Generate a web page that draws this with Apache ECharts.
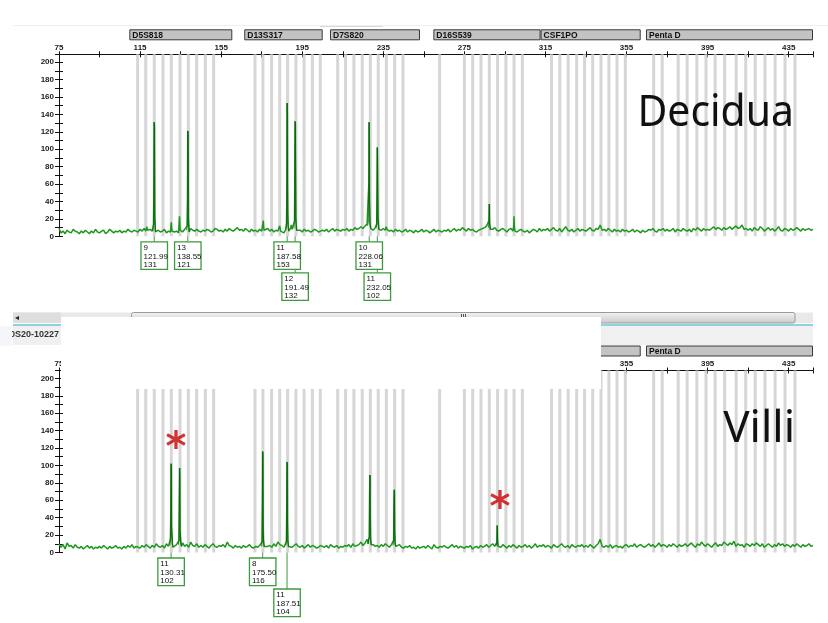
<!DOCTYPE html>
<html><head><meta charset="utf-8">
<script src="https://cdn.jsdelivr.net/npm/echarts@6/dist/echarts.min.js"></script>
<style>html,body{margin:0;padding:0;background:#fff}#c{width:828px;height:623px}</style>
</head><body><div id="c"></div>
<script>
// ---- axis ranges / ticks ----
const X_MIN = 75, X_MAX = 447, X_TICK = 20, X_LABEL_STEP = 40;
const Y_MIN = 0, Y_MAX = 209, Y_TICK = 10, Y_LABEL_STEP = 20;

// ---- loci (marker bins at top) ----
const markerNames = ['D5S818','D13S317','D7S820','D16S539','CSF1PO','Penta D'];
const markerStart = [109.7,166.4,208.7,259.7,312.6,364.6];
const markerEnd   = [160.5,205.1,253.1,312.6,362.0,447];

// ---- allele bins (grey vertical lines), bp ----
const bins = [113.8,117.8,122.0,126.3,130.4,134.7,138.8,142.9,147.2,151.3,
  171.7,175.6,179.9,183.9,187.8,191.9,195.9,200.0,203.9,
  212.5,216.4,220.5,224.6,228.6,232.5,236.5,240.6,244.7,
  262.8,275.0,279.1,283.2,287.3,291.4,295.5,299.5,303.6,
  318.0,322.1,326.2,330.4,334.3,338.3,342.4,346.3,350.3,354.4,
  368.4,372.6,380.5,384.9,389.7,394.2,398.7,403.4,409.1,413.8,418.5,423.3,428.3,433.2,438.1];

// ---- baseline trace, one reading per bp from 75 to 447 (RFU) ----
const deciduaNoise = [
9,4,6,3,7,5,4,8,6,5, 3,6,4,7,5,3,6,4,8,5, 4,6,7,3,5,8,6,4,6,5, 7,4,6,5,8,6,5,7,6,5,
8,6,9,7,5,8,6,6,4,7, 5,6,8,4,6,5,7,5,6,4, 6,5,8,6,5,9,7,6,8,6, 5,7,6,8,7,5,6,9,8,6,
7,5,8,6,9,7,6,8,10,7, 8,6,9,7,5,8,6,7,5,8, 6,7,5,9,6,8,5,7,6,5, 6,4,6,5,8,6,5,9,6,7,
5,8,6,7,5,6,8,7,5,6, 7,6,8,5,7,9,6,8,7,6, 8,7,9,6,8,7,10,8,9,11, 9,12,14,15,9,7,10,12,8,7,
9,11,8,6,7,5,8,6,7,5, 6,8,5,7,6,4,7,5,6,8, 5,7,6,4,6,8,5,7,6,5, 7,6,8,5,7,9,6,8,7,10,
8,6,9,7,8,6,5,7,8,9, 10,12,9,9,8,10,7,6,8,9, 7,5,8,9,6,6,5,7,8,6, 5,7,4,6,8,7,5,9,6,8,
7,9,6,8,10,7,6,9,5,8, 11,7,6,8,5,7,9,6,8,7, 6,8,10,7,6,9,8,13,7,8, 6,9,7,5,8,6,7,5,8,6,
7,5,6,8,5,7,6,4,7,5, 6,8,7,9,6,5,8,7,9,6, 8,6,7,9,5,8,7,6,9,7, 6,8,5,9,7,10,8,6,9,7,
8,7,9,11,8,10,9,7,10,8, 9,11,8,10,12,9,10,13,8,9, 7,9,6,10,8,7,11,9,6,8, 10,7,9,6,8,11,7,6,9,8,
6,9,7,8,10,8,6,9,7,8, 9,7,8];
const villiNoise = [
10,6,9,4,11,7,8,5,9,6, 5,7,4,6,8,5,7,4,6,5, 7,5,8,6,4,7,5,6,8,5, 6,4,7,5,8,6,9,5,7,6,
5,8,6,9,7,5,8,6,10,7, 6,8,5,10,7,9,6,8,9,10, 8,11,7,9,6,12,8,7,10,6, 8,6,9,7,5,8,10,7,6,8,
7,9,6,12,8,7,5,8,6,7, 5,8,6,7,9,6,5,7,6,8, 7,6,9,7,8,6,10,7,12,9, 8,6,7,7,9,6,8,10,7,6,
8,5,7,9,6,8,7,5,6,8, 7,6,8,5,9,7,6,8,5,7, 6,8,7,9,6,10,7,8,9,12, 8,11,15,18,10,9,7,8,6,9,
7,10,8,6,9,9,8,7,9,6, 5,7,6,8,5,6,4,7,5,6, 7,5,8,6,4,9,6,5,7,6, 8,6,5,7,9,6,8,5,7,6,
5,7,6,8,4,6,7,5,8,6, 7,9,6,8,10,7,9,8,6,9, 7,5,8,6,9,7,5,8,6,7, 9,6,8,5,7,10,6,8,7,9,
6,8,7,5,9,7,6,8,10,7, 6,8,5,9,7,6,8,7,9,6, 8,6,9,7,5,8,10,15,7,6, 8,6,9,5,7,8,6,7,5,8,
9,6,8,7,10,6,8,9,7,6, 8,10,7,9,6,8,11,7,9,8, 6,9,7,10,8,6,9,7,8,10, 7,9,11,8,6,10,8,12,9,7,
10,8,6,9,11,7,9,8,12,10, 8,11,9,13,7,10,8,9,6,10, 9,7,10,8,11,9,7,10,6,8, 10,8,6,9,7,11,8,10,7,9,
8,6,9,7,10,8,6,9,7,8, 10,7,8];

// ---- peaks, [bp, RFU] ----
const deciduaPeaks = [
  [[117.8,6],[118.3,11],[118.8,7]],
  [[121.3,6],[121.65,14],[121.82,56],[121.95,131],[122.1,126],[122.25,22],[122.6,5]],
  [[130.0,5],[130.4,16],[130.7,6]],
  [[134.1,6],[134.45,23],[134.8,7]],
  [[137.9,7],[138.25,12],[138.42,45],[138.53,121],[138.68,117],[138.85,20],[139.2,5]],
  [[175.4,6],[175.8,18],[176.1,7]],
  [[183.5,5],[183.9,12],[184.3,6]],
  [[186.9,8],[187.25,15],[187.42,50],[187.55,153],[187.65,140],[187.75,60],[187.85,27],[188.05,12],[188.4,6]],
  [[189.2,9],[189.6,13],[190.0,8]],
  [[190.9,9],[191.2,18],[191.38,85],[191.5,132],[191.6,128],[191.7,85],[191.85,20],[192.2,7]],
  [[227.2,12],[227.65,16],[227.88,62],[228.0,131],[228.1,110],[228.22,40],[228.45,14],[228.8,9]],
  [[231.4,9],[231.75,14],[231.93,57],[232.03,102],[232.12,93],[232.22,60],[232.4,20],[232.8,8]],
  [[236.0,7],[236.4,11],[236.8,8]],
  [[286.9,10],[287.15,18],[287.3,37],[287.45,15],[287.8,8]],
  [[299.1,8],[299.35,12],[299.5,23],[299.65,11],[299.95,6]]
];
const villiPeaks = [
  [[129.7,8],[130.0,16],[130.18,44],[130.31,102],[130.42,98],[130.52,30],[130.72,28],[130.95,10],[131.3,6]],
  [[133.9,9],[134.2,14],[134.38,60],[134.5,97],[134.6,90],[134.72,25],[134.92,23],[135.15,10],[135.5,7]],
  [[174.9,7],[175.2,12],[175.36,55],[175.5,116],[175.6,112],[175.72,30],[175.9,14],[176.2,7]],
  [[186.9,8],[187.2,13],[187.36,52],[187.51,104],[187.62,100],[187.72,35],[187.9,14],[188.2,7]],
  [[227.5,10],[227.8,15],[228.1,18],[228.24,65],[228.38,89],[228.47,85],[228.57,40],[228.72,16],[229.0,9]],
  [[239.8,8],[240.1,14],[240.26,56],[240.4,72],[240.5,68],[240.62,25],[240.85,10],[241.2,7]],
  [[290.8,8],[291.05,12],[291.2,31],[291.35,14],[291.6,7]]
];

// ---- allele calls: [allele, size bp, height RFU] ----
const deciduaCalls = [['9','121.99','131'],['13','138.55','121'],['11','187.58','153'],['12','191.49','132'],['10','228.06','131'],['11','232.05','102']];
const villiCalls = [['11','130.31','102'],['8','175.50','116'],['11','187.51','104']];

// ---- red asterisks [bp, RFU] ----
const villiStars = [[132.7,130],[292.6,61]];

const panelTitles = ['Decidua','Villi'];
const sampleName = '0S20-10227';

// ================= build =================
const GREEN = '#1c981c', DARK = '#0a560a', BOXG = '#3d9a3d';
const LABEL_FONT = 'Liberation Sans';

function buildTrace(noise, peaks) {
  const ranges = peaks.map(pk => [pk[0][0], pk[pk.length - 1][0]]);
  const pts = [];
  noise.forEach((v, i) => {
    const x = X_MIN + i;
    if (!ranges.some(r => x >= r[0] - 0.05 && x <= r[1] + 0.05)) pts.push([x, v]);
  });
  peaks.forEach(pk => pk.forEach(p => pts.push(p)));
  pts.sort((a, b) => a[0] - b[0]);
  return pts;
}

function xAx(grid, inner) {
  return {
    type: 'value', gridIndex: grid, position: 'top', min: X_MIN, max: X_MAX, interval: X_TICK,
    axisLine: { show: !inner, onZero: false, lineStyle: { color: '#111', width: 1 } },
    axisTick: { show: true, inside: inner, length: 3, lineStyle: { color: '#111' } },
    axisLabel: { show: !inner, margin: 3, fontSize: 8, fontWeight: 'bold', color: '#222', fontFamily: LABEL_FONT,
      formatter: v => ((v - X_MIN) % X_LABEL_STEP === 0 ? String(v) : '') },
    splitLine: { show: false }
  };
}
function yAx(grid, inner) {
  return {
    type: 'value', gridIndex: grid, position: 'left', min: Y_MIN, max: Y_MAX, interval: Y_TICK,
    axisLine: { show: !inner, onZero: false, lineStyle: { color: '#111', width: 1 } },
    axisTick: { show: true, inside: inner, length: 4, lineStyle: { color: '#111' } },
    axisLabel: { show: !inner, margin: 5, fontSize: 8, fontWeight: 'bold', color: '#222', fontFamily: LABEL_FONT,
      formatter: v => (v % Y_LABEL_STEP === 0 ? String(v) : '') },
    splitLine: { show: false }
  };
}

function assignRows(calls, pxPerBp) {
  const rows = []; let lastRow0 = null;
  calls.forEach(c => {
    const s = parseFloat(c[1]);
    if (lastRow0 !== null && (s - lastRow0) * pxPerBp < 27) rows.push(1);
    else { rows.push(0); lastRow0 = s; }
  });
  return rows;
}

function panelSeries(ax, noise, peaks, calls) {
  const s = [];
  s.push({
    type: 'custom', xAxisIndex: ax, yAxisIndex: ax, z: 1, silent: true, clip: false,
    data: bins.map(b => [b, 0]),
    renderItem: (params, api) => {
      const p0 = api.coord([api.value(0), Y_MIN]);
      const p1 = api.coord([api.value(0), Y_MAX]);
      return { type: 'rect', shape: { x: p0[0] - 1.5, y: p1[1], width: 3, height: p0[1] - p1[1] }, style: { fill: '#d6d6d6' } };
    }
  });
  s.push({
    type: 'custom', xAxisIndex: ax, yAxisIndex: ax, z: 5, silent: true, clip: false,
    data: markerNames.map((n, i) => [markerStart[i], markerEnd[i]]),
    renderItem: (params, api) => {
      const a = api.coord([api.value(0), Y_MAX]);
      const b = api.coord([api.value(1), Y_MAX]);
      const top = params.coordSys.y - 25;
      return { type: 'group', children: [
        { type: 'rect', shape: { x: a[0] + 0.5, y: top + 0.5, width: b[0] - a[0] - 1, height: 10 },
          style: { fill: '#c3c3c3', stroke: '#3a3a3a', lineWidth: 1 } },
        { type: 'text', style: { x: a[0] + 3, y: top + 6, text: markerNames[params.dataIndex], fill: '#111',
          fontSize: 8.5, fontWeight: 'bold', fontFamily: LABEL_FONT, verticalAlign: 'middle', align: 'left' } }
      ] };
    }
  });
  s.push({
    type: 'line', xAxisIndex: ax, yAxisIndex: ax, z: 3, silent: true, showSymbol: false, symbol: 'none',
    data: buildTrace(noise, peaks), lineStyle: { color: GREEN, width: 1.5 }
  });
  peaks.forEach(pk => {
    if (Math.max(...pk.map(p => p[1])) < 30) return;
    s.push({ type: 'line', xAxisIndex: ax, yAxisIndex: ax, z: 4, silent: true, symbol: 'none',
      data: pk, lineStyle: { color: DARK, width: 0.7 } });
  });
  const rows = assignRows(calls, 754 / (X_MAX - X_MIN));
  const callData = calls.map(c => [parseFloat(c[1]), 0]);
  s.push({
    type: 'custom', xAxisIndex: ax, yAxisIndex: ax, z: 6, silent: true, clip: false, data: callData,
    renderItem: (params, api) => {
      const p = api.coord([api.value(0), 0]);
      const top = p[1] + 5.5 + rows[params.dataIndex] * 31;
      return { type: 'line', shape: { x1: p[0], y1: p[1], x2: p[0], y2: top }, style: { stroke: BOXG, lineWidth: 1 } };
    }
  });
  s.push({
    type: 'custom', xAxisIndex: ax, yAxisIndex: ax, z: 7, silent: true, clip: false, data: callData,
    renderItem: (params, api) => {
      const p = api.coord([api.value(0), 0]);
      const c = calls[params.dataIndex];
      const top = p[1] + 5.5 + rows[params.dataIndex] * 31;
      const w = 26.5, h = 27.6;
      return { type: 'group', children: [
        { type: 'rect', shape: { x: p[0] - w / 2, y: top, width: w, height: h }, style: { fill: '#fff', stroke: BOXG, lineWidth: 1.3 } },
        { type: 'text', style: { x: p[0] - w / 2 + 2.5, y: top + 1.5, text: c.join('\n'), fill: '#111',
          fontSize: 8, fontFamily: LABEL_FONT, lineHeight: 8.7, verticalAlign: 'top', align: 'left' } }
      ] };
    }
  });
  return s;
}

const series = [].concat(
  panelSeries(0, deciduaNoise, deciduaPeaks, deciduaCalls),
  panelSeries(2, villiNoise, villiPeaks, villiCalls),
  [{
    type: 'scatter', xAxisIndex: 2, yAxisIndex: 2, z: 8, silent: true, symbolSize: 1,
    itemStyle: { color: 'rgba(0,0,0,0)' }, data: villiStars,
    label: { show: true, position: 'inside', formatter: '*', fontSize: 40, fontWeight: 'bold',
      color: '#c80000', fontFamily: 'DejaVu Sans', offset: [0, 10] }
  }]
);

const graphic = [
  { type: 'line', shape: { x1: 13, y1: 25.5, x2: 828, y2: 25.5 }, style: { stroke: '#efefef', lineWidth: 1 }, z: 50 },
  { type: 'line', shape: { x1: 320, y1: 26.5, x2: 383, y2: 26.5 }, style: { stroke: '#d8d8d8', lineWidth: 1 }, z: 50 },
  { type: 'rect', shape: { x: 13, y: 312.5, width: 800, height: 10.5 }, style: { fill: '#e9e9e9' }, z: 50 },
  { type: 'rect', shape: { x: 131.5, y: 312.5, width: 663.5, height: 10.5, r: 2 },
    style: { fill: new echarts.graphic.LinearGradient(0, 0, 0, 1, [{ offset: 0, color: '#f4f4f4' }, { offset: 1, color: '#c9c9c9' }]), stroke: '#9a9a9a', lineWidth: 1 }, z: 51 },
  { type: 'rect', shape: { x: 13, y: 312.5, width: 48, height: 10.5 }, style: { fill: '#dedede' }, z: 51 },
  { type: 'text', style: { x: 15, y: 317.5, text: '◂', fontSize: 8, fill: '#222', verticalAlign: 'middle' }, z: 52 },
  { type: 'rect', shape: { x: 461, y: 314, width: 1, height: 5 }, style: { fill: '#555' }, z: 52 },
  { type: 'rect', shape: { x: 463, y: 314, width: 1, height: 5 }, style: { fill: '#555' }, z: 52 },
  { type: 'rect', shape: { x: 465, y: 314, width: 1, height: 5 }, style: { fill: '#555' }, z: 52 },
  { type: 'rect', shape: { x: 13, y: 324, width: 800, height: 2 }, style: { fill: '#8fd2de' }, z: 51 },
  { type: 'rect', shape: { x: 13, y: 326, width: 800, height: 19 }, style: { fill: '#f0f0f0' }, z: 50 },
  { type: 'text', style: { x: 10, y: 335, text: sampleName, fontSize: 9, fontWeight: 'bold', fill: '#333', fontFamily: LABEL_FONT, verticalAlign: 'middle' }, z: 52 },
  { type: 'rect', shape: { x: 0, y: 326, width: 12, height: 20 }, style: { fill: '#f4f6f9' }, z: 53 },
  { type: 'rect', shape: { x: 61, y: 317, width: 540, height: 72 }, style: { fill: '#ffffff' }, z: 100 },
  { type: 'text', x: 794, y: 113, scaleX: 0.93, style: { x: 0, y: 0, text: panelTitles[0], fontSize: 44, fontFamily: 'Noto Sans', fill: '#111', align: 'right', verticalAlign: 'middle' }, z: 60 },
  { type: 'text', style: { x: 795, y: 429, text: panelTitles[1], fontSize: 44, fontFamily: 'Noto Sans', fill: '#111', align: 'right', verticalAlign: 'middle' }, z: 60 }
];

const chart = echarts.init(document.getElementById('c'), null, { renderer: 'canvas' });
chart.setOption({
  animation: false,
  backgroundColor: '#fff',
  grid: [
    { left: 59, top: 54.3, width: 754, height: 182 },
    { left: 59, top: 370.5, width: 754, height: 182 }
  ],
  xAxis: [xAx(0, false), xAx(0, true), xAx(1, false), xAx(1, true)],
  yAxis: [yAx(0, false), yAx(0, true), yAx(1, false), yAx(1, true)],
  series: series,
  graphic: graphic
});
</script></body></html>
